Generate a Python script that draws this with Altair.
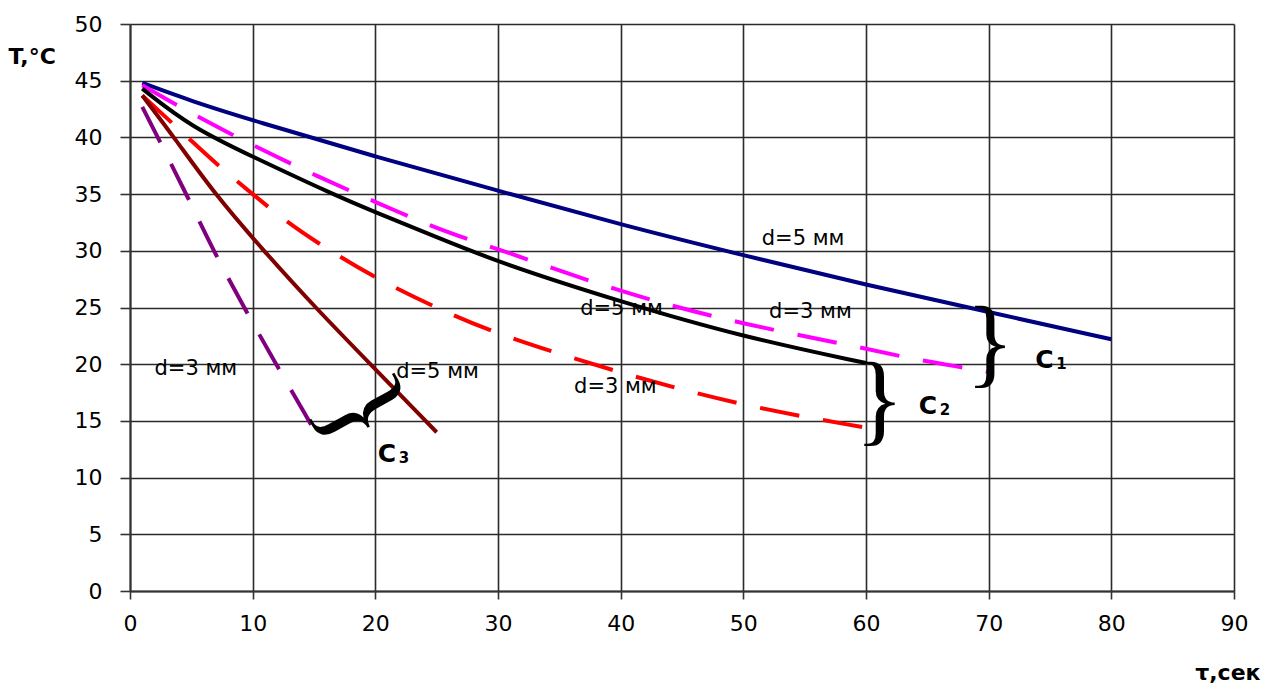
import altair as alt
import pandas as pd

# ---- data ----
blue_x = [1, 5, 10, 20, 30, 40, 50, 60, 70, 80]
blue_y = [44.8, 43.2, 41.5, 38.3, 35.3, 32.3, 29.6, 27.0, 24.6, 22.2]

magenta_x = [1, 5, 10, 15, 20, 26, 30, 40, 50, 60, 64, 68, 70]
magenta_y = [44.6, 42.1, 39.3, 36.7, 34.3, 31.5, 30.2, 26.3, 23.5, 21.4, 20.4, 19.7, 19.3]

black_x = [1, 5, 10, 16.5, 20, 25, 30, 40, 50, 60]
black_y = [44.3, 40.9, 38.3, 35.0, 33.4, 31.2, 29.0, 25.5, 22.4, 20.1]

red_x = [1, 3.5, 5, 7.3, 10, 12.7, 15.7, 20.3, 25.3, 30, 40, 50, 60]
red_y = [43.7, 41.2, 39.7, 37.4, 35.0, 32.6, 30.4, 27.4, 24.8, 22.6, 19.2, 16.3, 14.4]

brown_x = [1, 3.6, 6.9, 10.9, 15.1, 19.6, 25]
brown_y = [43.7, 40.0, 35.0, 30.0, 25.0, 20.0, 14.0]

purple_x = [1, 4.6, 6.8, 9.3, 11.9, 14.6, 15.1]
purple_y = [42.7, 35.0, 30.0, 25.0, 20.0, 15.0, 14.0]

ann_text = ["d=5 мм", "d=3 мм", "d=5 мм", "d=3 мм", "d=3 мм", "d=5 мм"]
ann_x = [51.5, 52.1, 36.7, 36.2, 2.0, 21.7]
ann_y = [31.0, 24.6, 24.9, 18.0, 19.6, 19.3]

c_text = ["C", "C", "C"]
c_sub = ["1", "2", "3"]
c_x = [73.8, 64.3, 20.2]
c_y = [20.4, 16.3, 12.1]

brace_x = [70.1, 61.1, 18.9]
brace_y = [21.7, 16.75, 15.9]
brace_angle = [0, 0, 61]
brace_size = [100, 102, 118]

x_ticks = list(range(0, 91, 10))
y_ticks = list(range(0, 51, 5))

series = [
    ("blue", blue_x, blue_y, "#000080", []),
    ("magenta", magenta_x, magenta_y, "#FF00FF", [40, 24]),
    ("black", black_x, black_y, "#000000", []),
    ("red", red_x, red_y, "#FF0000", [40, 24]),
    ("brown", brown_x, brown_y, "#800000", []),
    ("purple", purple_x, purple_y, "#800080", [40, 24]),
]

xscale = alt.Scale(domain=[0, 90], nice=False, zero=False)
yscale = alt.Scale(domain=[0, 50], nice=False, zero=False)

xaxis = alt.Axis(
    values=x_ticks, title="τ,сек", grid=True, gridColor="#2a2a2a", gridWidth=1.6,
    gridOpacity=1, domainColor="#333333", domainWidth=2, tickColor="#333333",
    tickWidth=1.6, tickSize=8,
    labelFont="DejaVu Sans", labelFontSize=22, labelColor="#000000", labelPadding=14,
    labelFlush=False,
    titleFont="DejaVu Sans", titleFontSize=22, titleFontWeight="bold", titleColor="#000000",
    titleAngle=0, titleAlign="right", titleBaseline="alphabetic", titleX=1130, titleY=88,
)
yaxis = alt.Axis(
    values=y_ticks, title="T,°C", grid=True, gridColor="#2a2a2a", gridWidth=1.6,
    gridOpacity=1, domainColor="#333333", domainWidth=2, tickColor="#333333",
    tickWidth=1.6, tickSize=10,
    labelFont="DejaVu Sans", labelFontSize=22, labelColor="#000000", labelPadding=18,
    labelFlush=False,
    titleFont="DejaVu Sans", titleFontSize=22, titleFontWeight="bold", titleColor="#000000",
    titleAngle=0, titleAlign="left", titleBaseline="middle", titleX=-122, titleY=32,
)


def X():
    return alt.X("t:Q", scale=xscale, axis=xaxis)


def Y():
    return alt.Y("T:Q", scale=yscale, axis=yaxis)


layers = []
for name, xs, ys, color, dash in series:
    df = pd.DataFrame({"t": xs, "T": ys})
    kw = dict(color=color, strokeWidth=4, interpolate="basis", strokeCap="butt")
    if dash:
        kw["strokeDash"] = dash
    layers.append(alt.Chart(df).mark_line(**kw).encode(x=X(), y=Y()))

ann_df = pd.DataFrame({"t": ann_x, "T": ann_y, "label": ann_text})
ann = alt.Chart(ann_df).mark_text(
    align="left", baseline="middle", font="DejaVu Sans", fontSize=21, color="#000000"
).encode(x=X(), y=Y(), text="label:N")

c_df = pd.DataFrame({"t": c_x, "T": c_y, "label": c_text, "sub": c_sub})
c_main = alt.Chart(c_df).mark_text(
    align="left", baseline="middle", font="DejaVu Sans", fontSize=25, fontWeight="bold",
    color="#000000"
).encode(x=X(), y=Y(), text="label:N")
c_subm = alt.Chart(c_df).mark_text(
    align="left", baseline="middle", font="DejaVu Sans", fontSize=15, fontWeight="bold",
    color="#000000", dx=21, dy=4
).encode(x=X(), y=Y(), text="sub:N")

br_df = pd.DataFrame({"t": brace_x, "T": brace_y, "ang": brace_angle, "fs": brace_size,
                      "label": ["}", "}", "}"]})
braces = alt.Chart(br_df).mark_text(
    align="center", baseline="middle", font="Liberation Serif", color="#000000"
).encode(
    x=X(), y=Y(), text="label:N",
    angle=alt.Angle("ang:Q", scale=None), size=alt.Size("fs:Q", scale=None),
)

chart = alt.layer(*layers, ann, c_main, c_subm, braces).properties(
    width=1104, height=567,
    autosize=alt.AutoSizeParams(type="none"),
    padding={"left": 122, "top": 16, "right": 27, "bottom": 96},
    background="#ffffff",
).configure_view(stroke=None)

chart.save("out.html", embed_options={"renderer": "svg", "actions": False})
